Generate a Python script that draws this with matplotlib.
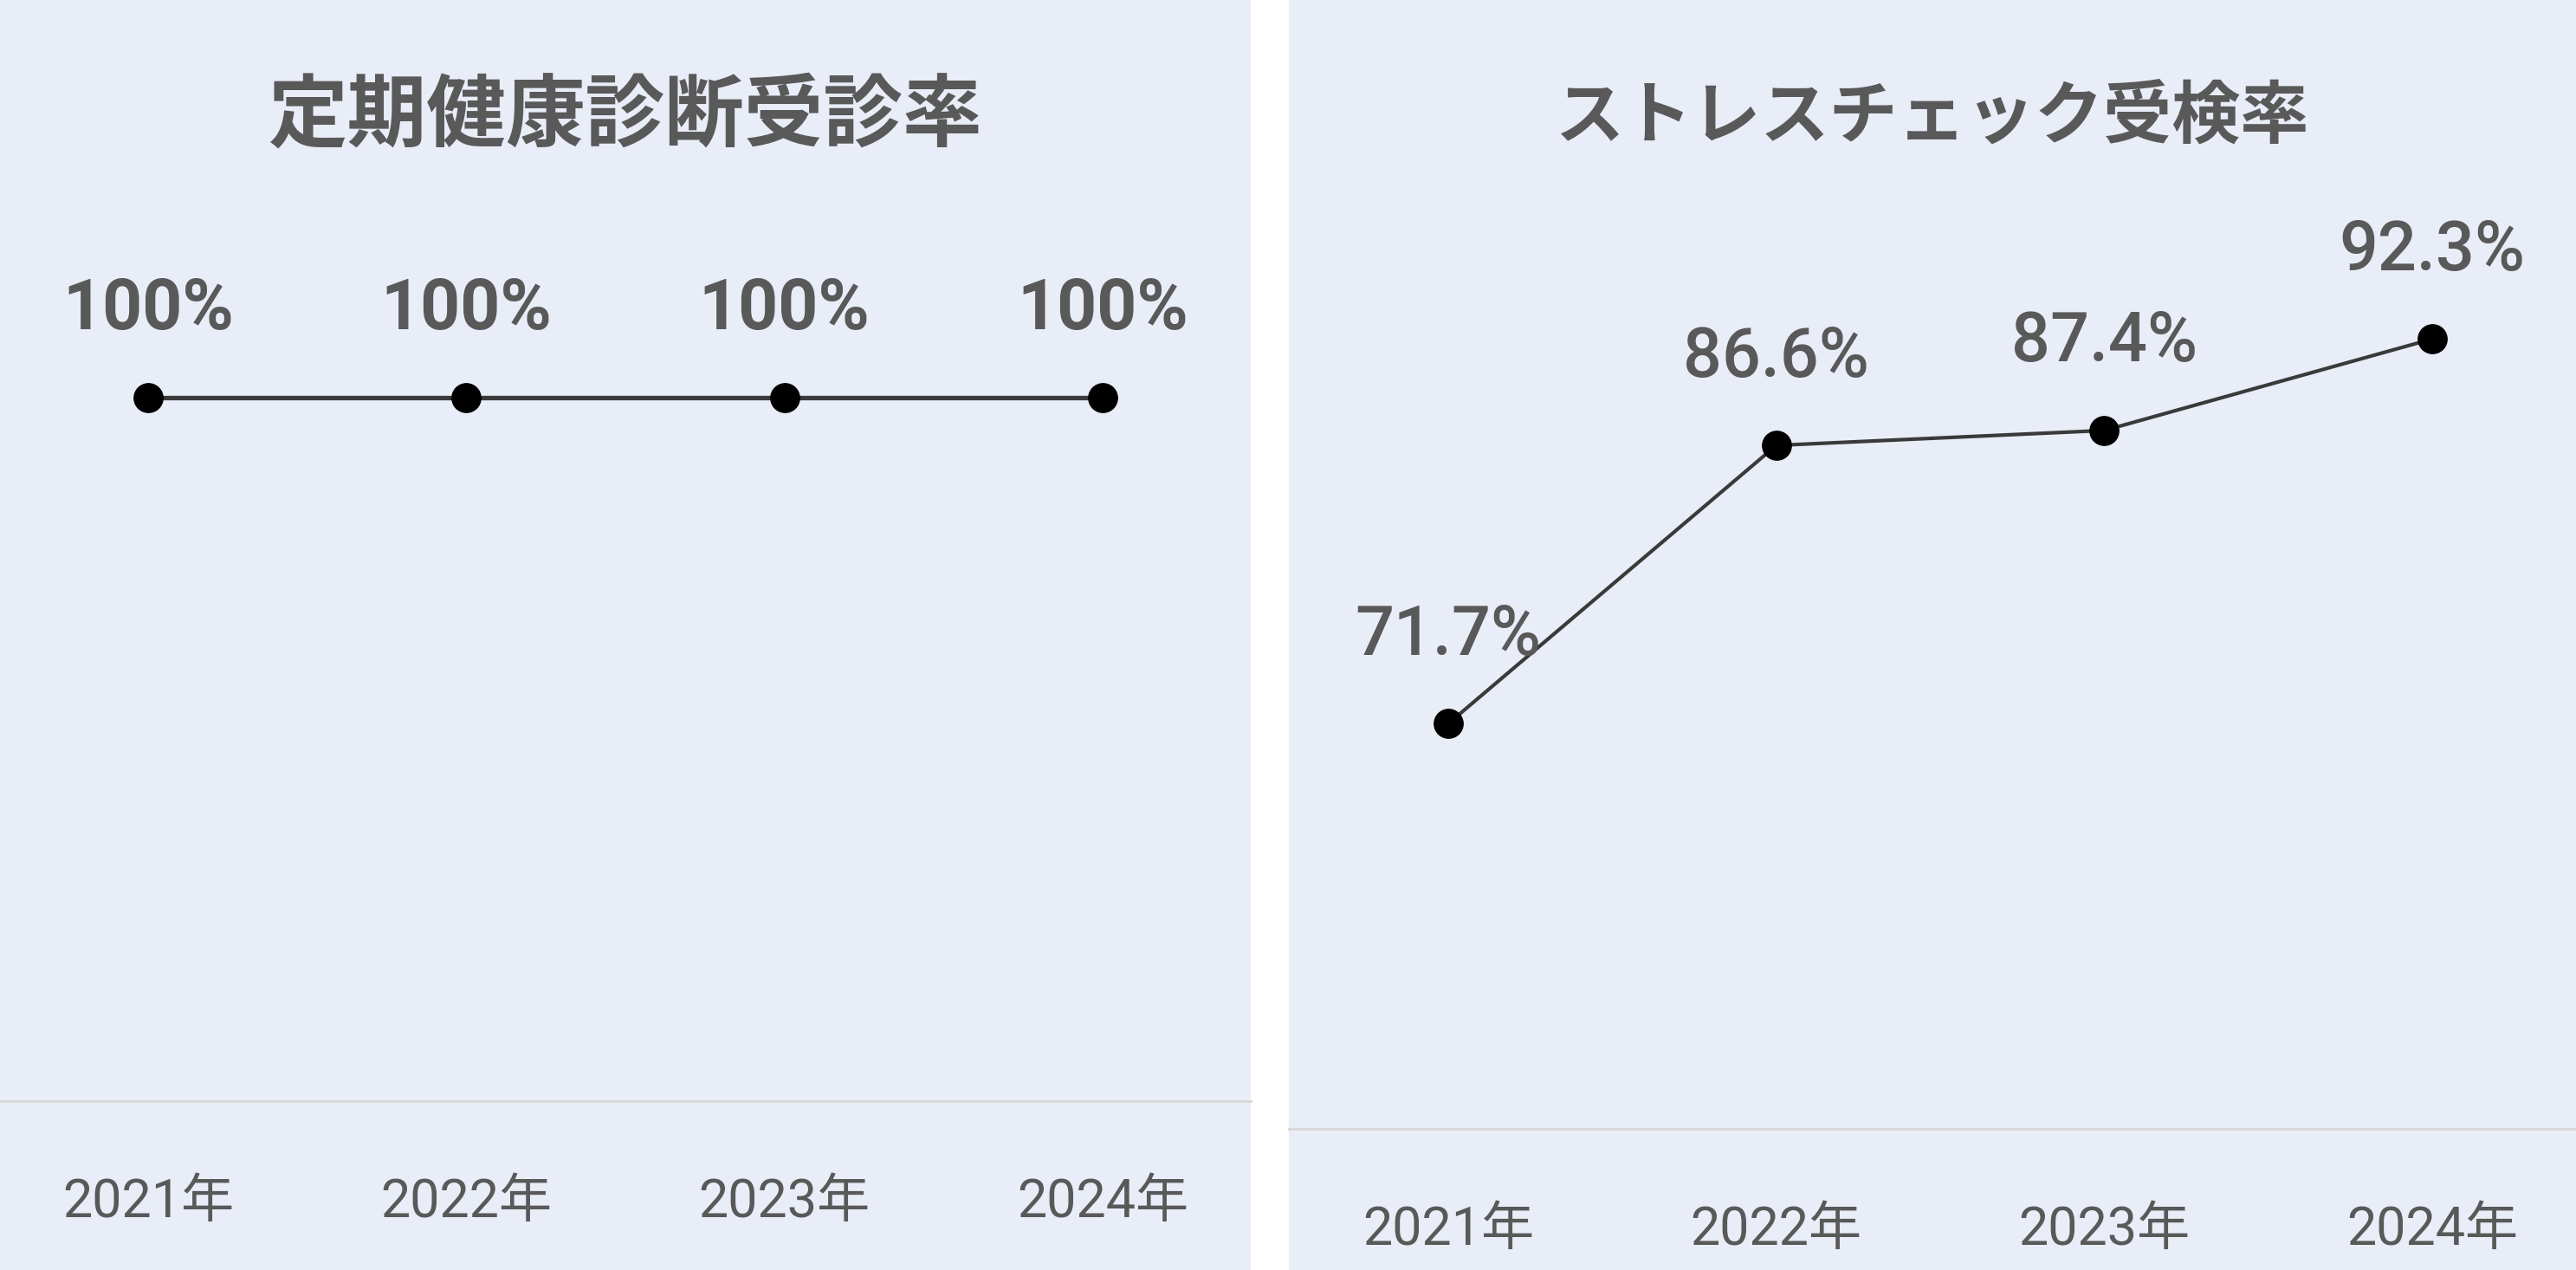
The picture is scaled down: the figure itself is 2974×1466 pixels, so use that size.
import matplotlib
matplotlib.use("Agg")
import matplotlib.pyplot as plt
from matplotlib.patches import Rectangle

plt.rcParams['font.family'] = ['Roboto', 'Noto Sans CJK JP', 'DejaVu Sans']

years = ['2021年', '2022年', '2023年', '2024年']
checkup_rate = [100, 100, 100, 100]
checkup_labels = ['100%', '100%', '100%', '100%']
stress_rate = [71.7, 86.6, 87.4, 92.3]
stress_labels = ['71.7%', '86.6%', '87.4%', '92.3%']

W, H = 2974, 1466
bg = '#E9EDF8'
txt = '#595959'

fig = plt.figure(figsize=(W / 100, H / 100), dpi=100)
fig.patch.set_facecolor('white')


def px_box(x0, x1, y_top, y_bot):
    # pixel box (origin top-left) -> figure fraction [left, bottom, width, height]
    return [x0 / W, 1 - y_bot / H, (x1 - x0) / W, (y_bot - y_top) / H]


def panel(x0, x1, axis_y, xlim, ylim, values, labels, title, title_size, lw,
          label_size, label_weight):
    fig.patches.append(Rectangle((x0 / W, 0), (x1 - x0) / W, 1, transform=fig.transFigure,
                                 facecolor=bg, edgecolor='none', zorder=-5))
    ax = fig.add_axes(px_box(x0, x1, 221, axis_y))
    ax.patch.set_alpha(0)
    xs = range(len(values))
    ax.plot(xs, values, color='#3A3A3A', linewidth=lw, marker='o', markersize=24,
            markerfacecolor='black', markeredgecolor='black', zorder=3, clip_on=False)
    for x, v, s in zip(xs, values, labels):
        ax.annotate(s, (x, v), xytext=(0, 73), textcoords='offset points',
                    ha='center', va='center', fontsize=label_size, color=txt,
                    fontweight=label_weight, zorder=4, annotation_clip=False)
    ax.set_xlim(*xlim)
    ax.set_ylim(*ylim)
    ax.set_xticks(list(xs))
    ax.set_xticklabels(years, fontsize=44, color=txt)
    ax.tick_params(axis='x', length=0, pad=63)
    ax.set_yticks([])
    for side in ['top', 'left', 'right']:
        ax.spines[side].set_visible(False)
    ax.spines['bottom'].set_color('#D9D9D9')
    ax.spines['bottom'].set_linewidth(2.2)
    fig.text((x0 + x1) / 2 / W, 1 - 135 / H, title, ha='center', va='center',
             fontsize=title_size, color=txt, fontweight='bold',
             family=['Noto Sans CJK JP', 'DejaVu Sans'])
    return ax


panel(0, 1444, 1271, (-0.466, 3.466), (0, 129.3), checkup_rate, checkup_labels,
      '定期健康診断受診率', 66, 3.8, 58, 'bold')
panel(1488, 2974, 1303, (-0.486, 3.438), (50, 100.2), stress_rate, stress_labels,
      'ストレスチェック受検率', 57, 3.0, 57, 'medium')

fig.savefig('out.png', dpi=100, facecolor=fig.get_facecolor())
